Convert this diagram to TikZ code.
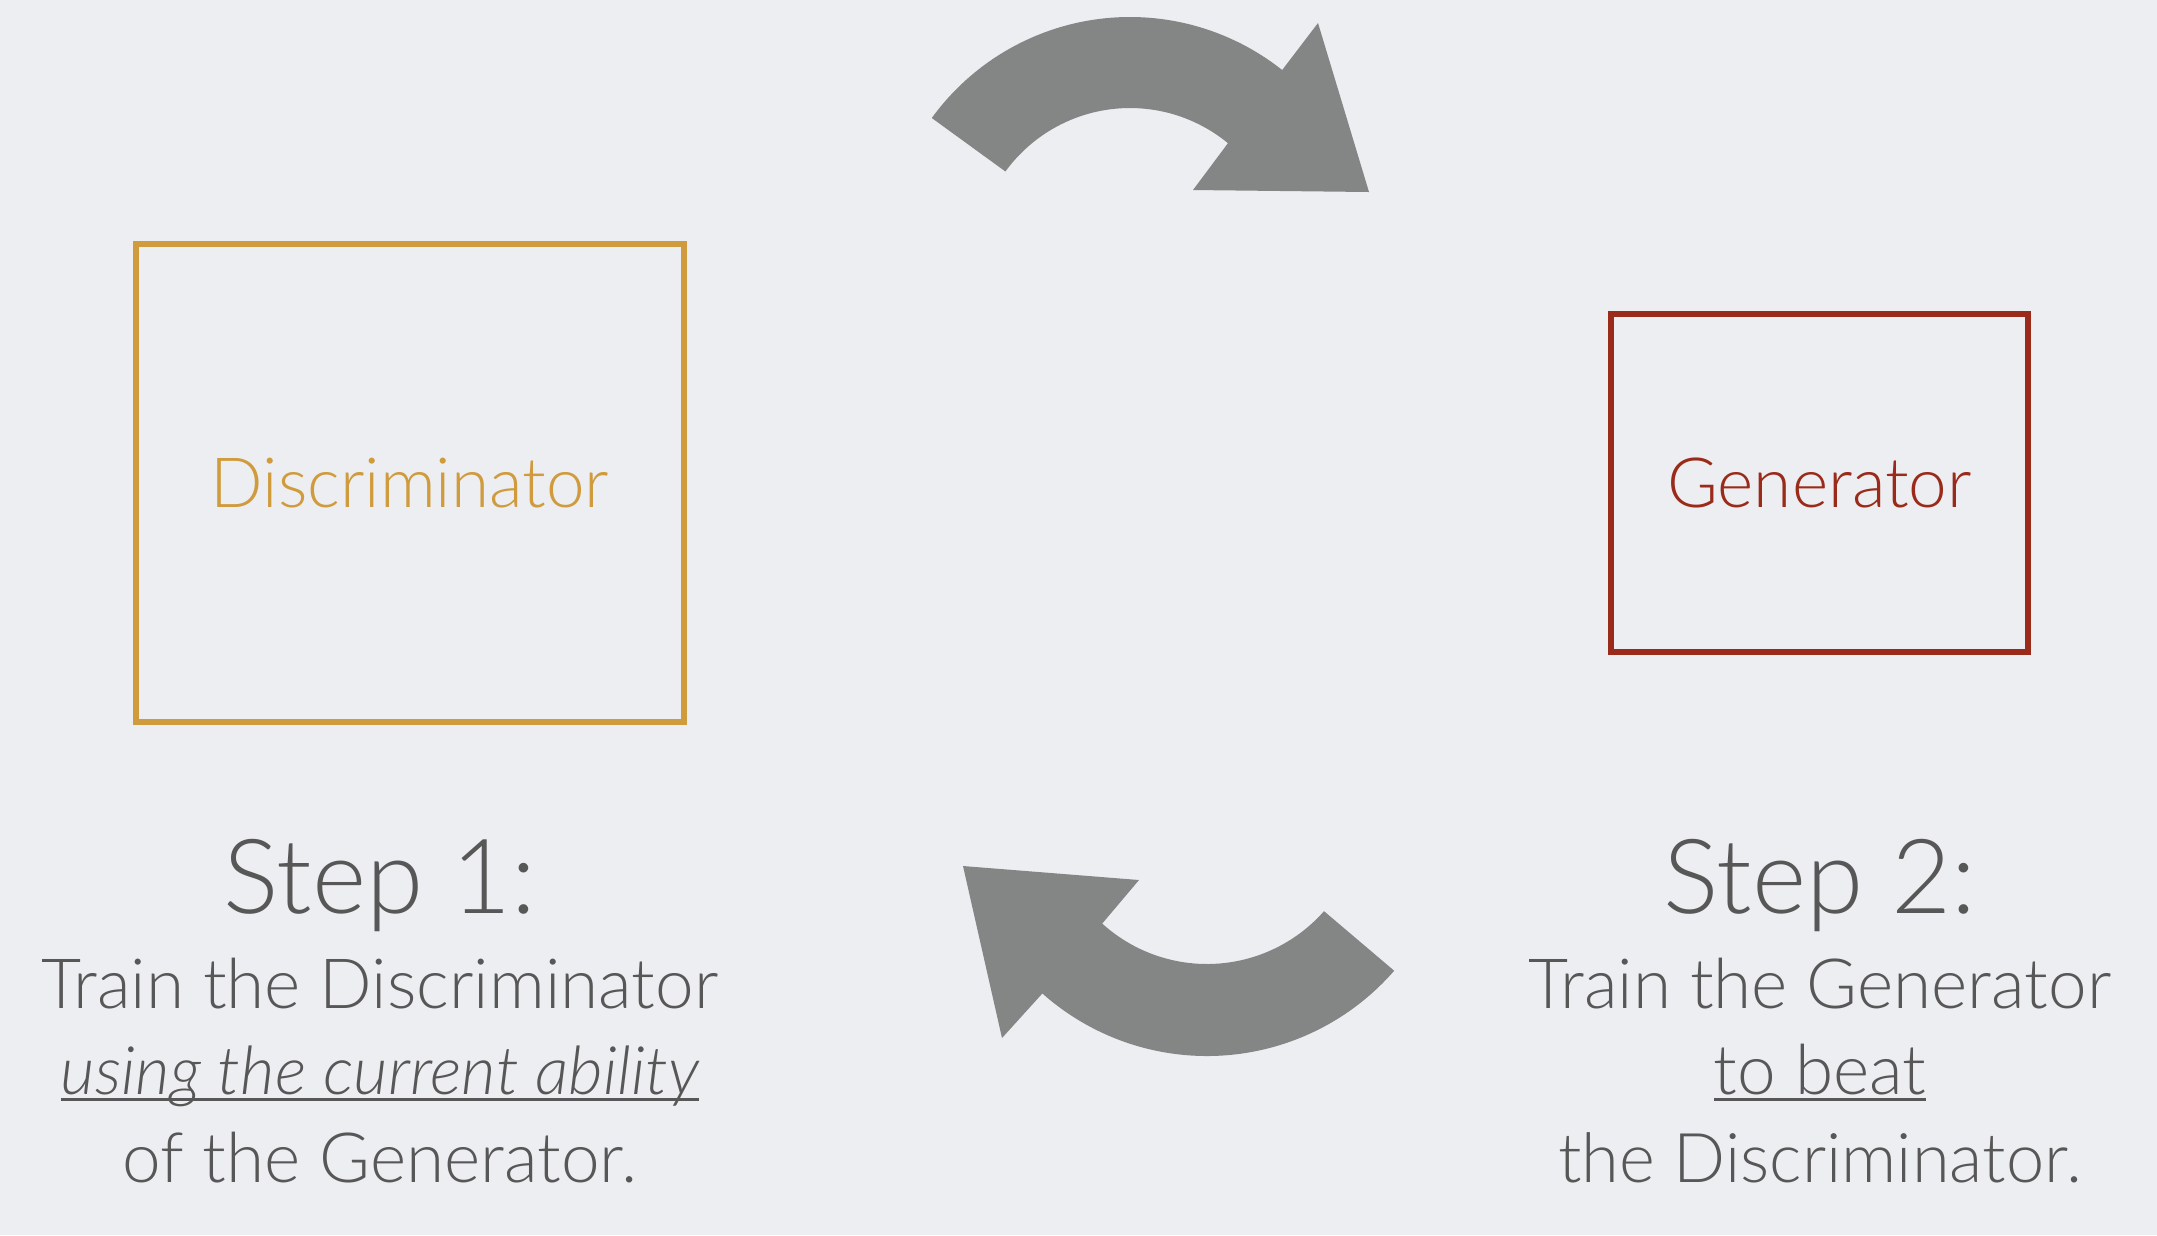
\documentclass[tikz,border=0pt]{standalone}
\usepackage{fontspec}
\setmainfont{Lato Light}[ItalicFont={Lato Light Italic}]
\usetikzlibrary{calc}
\definecolor{bgc}{HTML}{EDEEF1}
\definecolor{arrowc}{HTML}{838685}
\definecolor{goldc}{HTML}{CF9B3C}
\definecolor{redc}{HTML}{9A2B1A}
\definecolor{txtc}{HTML}{575757}
\newcommand\myul[1]{\setbox0=\hbox{#1}\rlap{\rule[-2.1pt]{\wd0}{0.85pt}}\box0}
\begin{document}
\begin{tikzpicture}[x=0.01cm,y=-0.01cm,
  boxstyle/.style={draw, line width=0.06cm, inner sep=0pt, font=\fontsize{19.7pt}{23pt}\selectfont},
  steptitle/.style={anchor=base, text=txtc, inner sep=0pt, font=\fontsize{29.5pt}{34pt}\selectfont},
  bodyline/.style={anchor=base, text=txtc, inner sep=0pt, font=\fontsize{19.7pt}{23pt}\selectfont},
  arrowshape/.style={fill=arrowc}]
\fill[bgc] (0,0) rectangle (2157,1235);
\useasboundingbox (0,0) rectangle (2157,1235);

% boxes
\node[boxstyle, draw=goldc, text=goldc, minimum width=5.48cm, minimum height=4.78cm] (disc) at (410,483) {Discriminator};
\node[boxstyle, draw=redc, text=redc, minimum width=4.17cm, minimum height=3.38cm] (gen) at (1819.5,483) {Generator};

% top arrow
\coordinate (c1) at (1130,262);
\coordinate (h1a) at (1318,23);
\coordinate (h1t) at (1369,192);
\coordinate (h1b) at (1193,190);
\fill[arrowshape] ($(c1)+(-144:245)$) arc[start angle=-144, end angle=-51.6, radius=245]
  -- (h1a) -- (h1t) -- (h1b) -- ($(c1)+(-50.5:154)$)
  arc[start angle=-50.5, end angle=-144, radius=154] -- cycle;

% bottom arrow
\coordinate (c2) at (1207,808);
\coordinate (h2a) at (1002,1038);
\coordinate (h2t) at (963,866);
\coordinate (h2b) at (1139,880);
\fill[arrowshape] ($(c2)+(41:248)$) arc[start angle=41, end angle=131.6, radius=248]
  -- (h2a) -- (h2t) -- (h2b) -- ($(c2)+(132.2:156)$)
  arc[start angle=132.2, end angle=41.4, radius=156] -- cycle;

% left text
\node[steptitle] (s1) at (380,913) {Step 1:};
\node[bodyline] (l1a) at (380,1008) {Train the Discriminator};
\node[bodyline, font=\fontsize{19pt}{23pt}\selectfont] (l1b) at (380,1094) {\myul{\itshape using the current ability}};
\node[bodyline] (l1c) at (380,1182) {of the Generator.};

% right text
\node[steptitle] (s2) at (1820,913) {Step 2:};
\node[bodyline] (l2a) at (1820,1008) {Train the Generator};
\node[bodyline] (l2b) at (1820,1094) {\myul{to beat}};
\node[bodyline, font=\fontsize{19.5pt}{23pt}\selectfont] (l2c) at (1820,1182) {the Discriminator.};
\end{tikzpicture}
\end{document}
